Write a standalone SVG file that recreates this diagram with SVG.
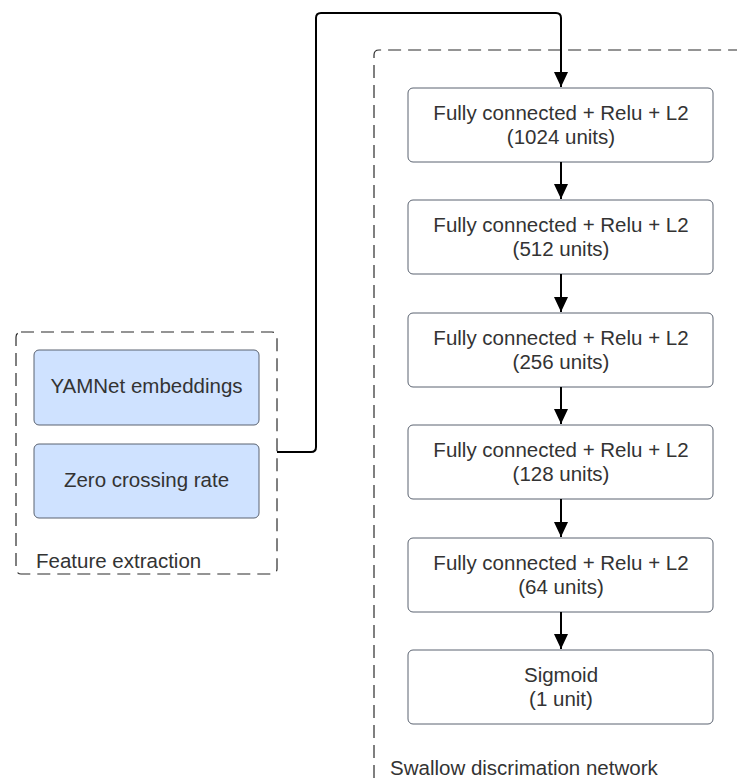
<svg xmlns="http://www.w3.org/2000/svg" width="737" height="778" viewBox="0 0 737 778">
<defs>
<style>
.grp{fill:none;stroke:#2b2b2b;stroke-width:1.2;stroke-dasharray:13 7}
.node{fill:#fff;stroke:#5a6270;stroke-width:1}
.feat{fill:#cfe2ff;stroke:#5a6270;stroke-width:1}
.t{font-family:"Liberation Sans",Arial,sans-serif;font-size:20.5px;fill:#333;text-anchor:middle}
.lbl{font-family:"Liberation Sans",Arial,sans-serif;font-size:20.5px;fill:#333}
.edge{fill:none;stroke:#000;stroke-width:2}
</style>
<marker id="arr" markerWidth="16" markerHeight="14" refX="15" refY="7" orient="auto" markerUnits="userSpaceOnUse">
<path d="M0,0 L15,7 L0,14 Z" fill="#000"/>
</marker>
</defs>
<rect width="737" height="778" fill="#fff"/>
<g id="feature-extraction">
<rect class="grp" x="16" y="332" width="261" height="242" rx="5"/>
<text class="lbl" x="36" y="568">Feature extraction</text>
</g>
<g id="swallow-network">
<path class="grp" d="M374,778 L374,55 Q374,50 379,50 L737,50"/>
<text class="lbl" x="390" y="775">Swallow discrimation network</text>
</g>
<g id="yamnet">
<rect class="feat" x="34" y="350" width="225" height="75" rx="5"/>
<text class="t" x="146.5" y="393">YAMNet embeddings</text>
</g>
<g id="zcr">
<rect class="feat" x="34" y="444" width="225" height="74" rx="5"/>
<text class="t" x="146.5" y="487">Zero crossing rate</text>
</g>
<g id="fc1024">
<rect class="node" x="408" y="88" width="305" height="74" rx="5"/>
<text class="t" x="561" y="120">Fully connected + Relu + L2</text>
<text class="t" x="561" y="144">(1024 units)</text>
</g>
<g id="fc512">
<rect class="node" x="408" y="200" width="305" height="74" rx="5"/>
<text class="t" x="561" y="232">Fully connected + Relu + L2</text>
<text class="t" x="561" y="256">(512 units)</text>
</g>
<g id="fc256">
<rect class="node" x="408" y="313" width="305" height="74" rx="5"/>
<text class="t" x="561" y="345">Fully connected + Relu + L2</text>
<text class="t" x="561" y="369">(256 units)</text>
</g>
<g id="fc128">
<rect class="node" x="408" y="425" width="305" height="74" rx="5"/>
<text class="t" x="561" y="457">Fully connected + Relu + L2</text>
<text class="t" x="561" y="481">(128 units)</text>
</g>
<g id="fc64">
<rect class="node" x="408" y="538" width="305" height="74" rx="5"/>
<text class="t" x="561" y="570">Fully connected + Relu + L2</text>
<text class="t" x="561" y="594">(64 units)</text>
</g>
<g id="sigmoid">
<rect class="node" x="408" y="650" width="305" height="74" rx="5"/>
<text class="t" x="561" y="682">Sigmoid</text>
<text class="t" x="561" y="706">(1 unit)</text>
</g>
<g id="connectors">
<path class="edge" d="M277,452 L311,452 Q316,452 316,447 L316,18 Q316,13 321,13 L556,13 Q561,13 561,18 L561,87" marker-end="url(#arr)"/>
<path class="edge" d="M561,162 L561,199" marker-end="url(#arr)"/>
<path class="edge" d="M561,274 L561,312" marker-end="url(#arr)"/>
<path class="edge" d="M561,387 L561,424" marker-end="url(#arr)"/>
<path class="edge" d="M561,499 L561,537" marker-end="url(#arr)"/>
<path class="edge" d="M561,612 L561,649" marker-end="url(#arr)"/>
</g>
</svg>
